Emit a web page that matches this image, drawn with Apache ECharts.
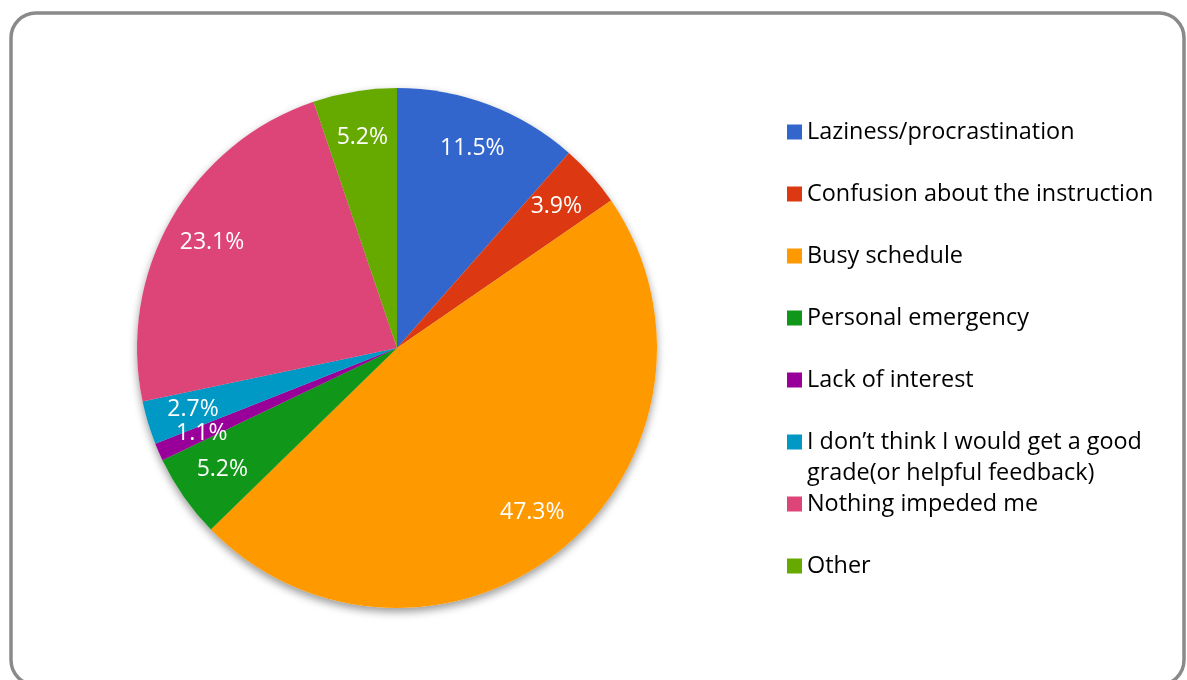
<!DOCTYPE html>
<html>
<head>
<meta charset="utf-8">
<script src="https://cdn.jsdelivr.net/npm/echarts@6/dist/echarts.min.js"></script>
<style>
  html, body { margin: 0; padding: 0; background: #fff; }
  #chart { width: 1187px; height: 680px; }
</style>
</head>
<body>
<div id="chart"></div>
<script>
// Reasons that impeded the respondents (share of answers, %)
const categories = [
  'Laziness/procrastination',
  'Confusion about the instruction',
  'Busy schedule',
  'Personal emergency',
  'Lack of interest',
  'I don’t think I would get a good\ngrade(or helpful feedback)',
  'Nothing impeded me',
  'Other'
];
const shares = [11.5, 3.9, 47.3, 5.2, 1.1, 2.7, 23.1, 5.2];
const colors = ['#3366cc', '#dc3912', '#ff9900', '#109618', '#990099', '#0099c6', '#dd4477', '#66aa00'];

const pieData = categories.map((name, i) => ({ name, value: shares[i] }));
const center = [397, 348];
const FONT = '"Open Sans", Lato, sans-serif';
const LINE = 31;

const legendBase = {
  orient: 'vertical',
  left: 787,
  padding: 0,
  itemWidth: 15,
  itemHeight: 15,
  itemGap: LINE,
  icon: 'rect',
  selectedMode: false,
  textStyle: { fontFamily: FONT, fontSize: 23.4, color: '#000', lineHeight: LINE }
};

const chart = echarts.init(document.getElementById('chart'), null, { renderer: 'canvas' });
chart.setOption({
  animation: false,
  backgroundColor: '#fff',
  color: colors,
  graphic: [{
    type: 'rect',
    z: 0,
    shape: { x: 11, y: 13, width: 1173, height: 672, r: 25 },
    style: { fill: 'none', stroke: '#8a8a8a', lineWidth: 3.5 }
  }],
  legend: [
    Object.assign({}, legendBase, { top: 116.5, data: categories.slice(0, 5) }),
    // the two-line entry: a blank spacer line keeps its first line level with the marker
    Object.assign({}, legendBase, {
      top: 395.5,
      data: categories.slice(5, 6),
      formatter: (name) => '\n' + name
    }),
    Object.assign({}, legendBase, { top: 488.5, data: categories.slice(6) })
  ],
  series: [
    {
      // coloured slices
      name: 'slices',
      type: 'pie',
      z: 2,
      center,
      radius: [0, 260],
      startAngle: 90,
      clockwise: true,
      silent: true,
      label: { show: false },
      labelLine: { show: false },
      itemStyle: { borderWidth: 0 },
      data: pieData
    },
    {
      // soft shadow under the disc
      name: 'shadow',
      type: 'pie',
      z: 1,
      center,
      radius: [0, 260],
      startAngle: 90,
      silent: true,
      label: { show: false },
      labelLine: { show: false },
      itemStyle: {
        color: '#ffffff',
        borderWidth: 0,
        shadowColor: 'rgba(0,0,0,0.4)',
        shadowBlur: 9,
        shadowOffsetY: 4
      },
      data: pieData
    },
    {
      // percentage labels placed on an outer ring
      name: 'labels',
      type: 'pie',
      z: 3,
      center,
      radius: [160, 260],
      startAngle: 90,
      silent: true,
      itemStyle: { color: 'rgba(0,0,0,0)', borderWidth: 0 },
      label: {
        show: true,
        position: 'inside',
        formatter: (p) => p.value.toFixed(1) + '%',
        color: '#fff',
        fontFamily: FONT,
        fontSize: 23
      },
      labelLine: { show: false },
      data: pieData
    }
  ]
});
</script>
</body>
</html>
